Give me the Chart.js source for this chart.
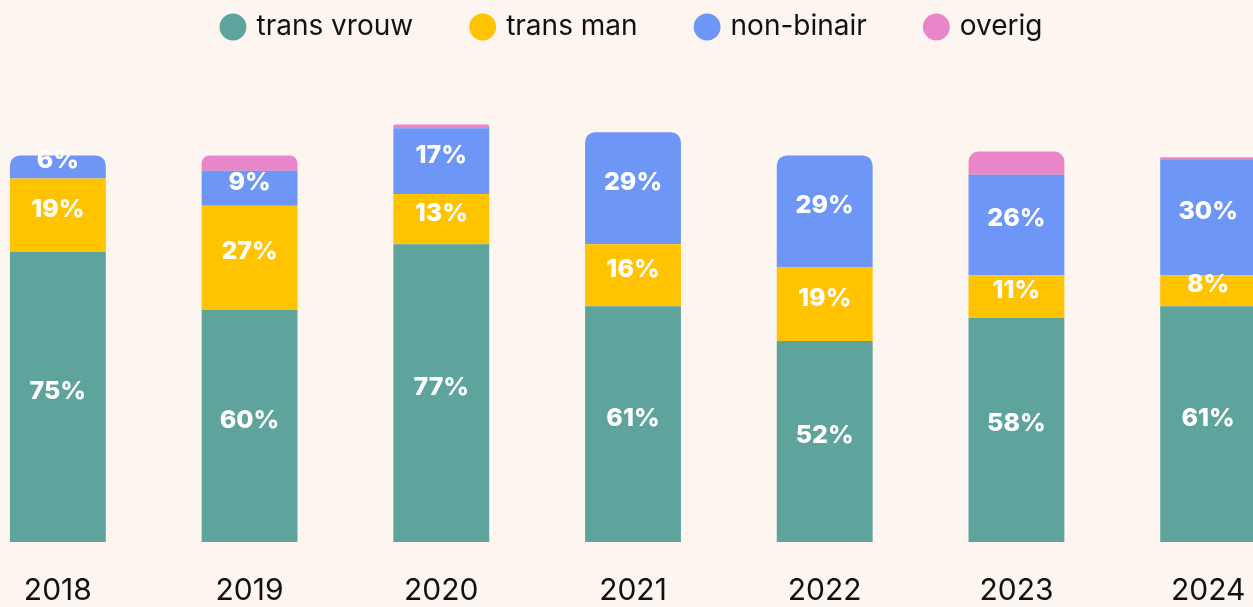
<!DOCTYPE html>
<html>
<head>
<meta charset="utf-8">
<script src="https://cdn.jsdelivr.net/npm/chart.js@4.4.1/dist/chart.umd.min.js"></script>
<style>
    html, body {
        margin: 0;
        padding: 0;
        width: 1253px;
        height: 607px;
        overflow: hidden;
        background: #fdf5f0;
    }

    #chartBox {
        position: absolute;
        left: -38px;
        top: -47px;
        width: 1342px;
        height: 679px;
    }
</style>
</head>
<body>

<div id="chartBox">
    <canvas id="genderChart"></canvas>
</div>

<script>

const years = [
    "2018", "2019", "2020", "2021", "2022", "2023", "2024"
];

const transVrouw = [75, 60, 77, 61, 52, 58, 61];
const transMan = [19, 27, 13, 16, 19, 11, 8];
const nonBinair = [6, 9, 17, 29, 29, 26, 30];
const overig = [0, 4, 1, 0, 0, 6, 0.5];

const seriesNames = [
    "trans vrouw", "trans man", "non-binair", "overig"
];

const seriesColors = [
    "#5ea39c", "#ffc300", "#6d96f7", "#e986c9"
];

// only the first three series get a percentage inside the bar
const labelledSeries = 3;

const fontFamily = "Inter, 'Noto Sans', sans-serif";

const barLabels = {

    id: "barLabels",

    afterDatasetsDraw(chart) {

        const ctx = chart.ctx;

        ctx.save();
        ctx.fillStyle = "#ffffff";
        ctx.font = "800 25px " + fontFamily;
        ctx.textAlign = "center";
        ctx.textBaseline = "middle";

        chart.data.datasets.forEach((dataset, i) => {

            if (i >= labelledSeries) {
                return;
            }

            const meta = chart.getDatasetMeta(i);

            meta.data.forEach((bar, j) => {

                const value = dataset.data[j];

                if (!value) {
                    return;
                }

                const p = bar.getProps(["x", "y", "base"], true);

                // labels sit a little above the middle of their segment
                ctx.fillText(
                    value + "%",
                    p.x,
                    (p.y + p.base) / 2 - 6
                );

            });

        });

        ctx.restore();
    }

};

function makeDataset(name, values, color) {

    return {
        label: name,
        data: values,
        backgroundColor: color,
        borderWidth: 0,
        borderRadius: 10,
        borderSkipped: "start",
        categoryPercentage: 1,
        barPercentage: 0.5
    };

}

const allSeries = [transVrouw, transMan, nonBinair, overig];

new Chart(
    document.getElementById("genderChart"),
    {
        type: "bar",

        data: {
            labels: years,
            datasets: allSeries.map(
                (values, i) =>
                    makeDataset(seriesNames[i], values, seriesColors[i])
            )
        },

        options: {
            responsive: true,
            maintainAspectRatio: false,
            animation: false,

            layout: {
                padding: 0
            },

            plugins: {
                legend: {
                    position: "top",
                    labels: {
                        usePointStyle: true,
                        pointStyle: "circle",
                        boxWidth: 19,
                        boxHeight: 19,
                        padding: 60,
                        color: "#111111",
                        font: {
                            family: fontFamily,
                            size: 28
                        }
                    }
                },
                tooltip: {
                    enabled: false
                }
            },

            scales: {
                x: {
                    stacked: true,
                    grid: {
                        display: false
                    },
                    border: {
                        display: false
                    },
                    ticks: {
                        color: "#111111",
                        padding: 23,
                        font: {
                            family: fontFamily,
                            size: 30
                        }
                    }
                },
                y: {
                    stacked: true,
                    display: false,
                    min: 0,
                    max: 127
                }
            }
        },

        plugins: [barLabels]
    }
);

</script>
</body>
</html>
